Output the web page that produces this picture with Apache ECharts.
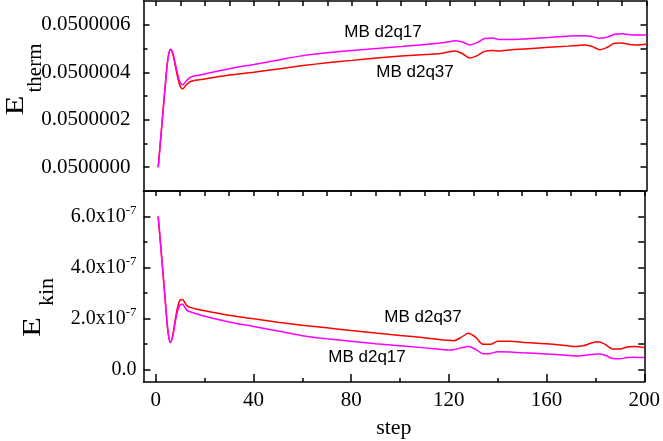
<!DOCTYPE html>
<html>
<head>
<meta charset="utf-8">
<script src="https://cdn.jsdelivr.net/npm/echarts@6/dist/echarts.min.js"></script>
<style>
  html, body { margin: 0; padding: 0; background: #fff; }
  #chart { width: 663px; height: 441px; }
</style>
</head>
<body>
<div id="chart"></div>
<script>
// Simulation steps shared by all four curves
const steps = [1, 2, 3, 4, 5, 6, 7, 8, 9, 10, 11, 12, 13, 14, 16, 20, 30, 40, 50, 60, 70, 80, 90, 100, 110,
  116, 119, 122, 125, 128, 131, 134, 137, 140, 145, 150, 160, 168, 172, 175, 178, 181, 184, 187, 190, 193, 196, 200];

// Thermal energy
const thermD2q37 = [0.05, 0.05000012, 0.05000024, 0.05000036, 0.05000046, 0.050000495, 0.050000475, 0.050000425,
  0.050000375, 0.05000034, 0.05000033, 0.050000342, 0.050000352, 0.05000036, 0.050000366, 0.050000372,
  0.050000388, 0.0500004, 0.050000414, 0.050000428, 0.05000044, 0.05000045, 0.05000046, 0.050000468, 0.050000475,
  0.050000479, 0.050000485, 0.050000489, 0.050000478, 0.05000046, 0.05000047, 0.050000488, 0.050000492, 0.05000049,
  0.050000495, 0.050000498, 0.050000505, 0.05000051, 0.050000513, 0.050000515, 0.050000508, 0.050000495,
  0.050000505, 0.050000522, 0.050000523, 0.050000517, 0.050000515, 0.050000518];
const thermD2q17 = [0.05, 0.05000012, 0.05000024, 0.05000036, 0.05000046, 0.050000497, 0.05000048, 0.050000435,
  0.05000039, 0.050000355, 0.050000347, 0.050000358, 0.05000037, 0.050000378, 0.050000385, 0.050000393,
  0.050000415, 0.050000433, 0.050000452, 0.05000047, 0.050000482, 0.050000492, 0.0500005, 0.050000508, 0.050000517,
  0.050000523, 0.050000528, 0.050000533, 0.050000527, 0.050000515, 0.050000525, 0.050000542, 0.050000544, 0.050000538,
  0.050000538, 0.05000054, 0.050000546, 0.050000552, 0.050000554, 0.050000554, 0.05000055, 0.050000543,
  0.050000548, 0.05000056, 0.050000562, 0.050000558, 0.050000557, 0.050000557];

// Kinetic energy
const kinD2q37 = [6.0e-7, 4.9e-7, 3.75e-7, 2.6e-7, 1.5e-7, 1.05e-7, 1.35e-7, 1.95e-7, 2.45e-7, 2.72e-7, 2.74e-7, 2.6e-7,
  2.48e-7, 2.43e-7, 2.38e-7, 2.3e-7, 2.12e-7, 1.98e-7, 1.85e-7, 1.73e-7, 1.63e-7, 1.52e-7, 1.42e-7, 1.33e-7, 1.24e-7,
  1.17e-7, 1.14e-7, 1.12e-7, 1.25e-7, 1.41e-7, 1.25e-7, 0.98e-7, 0.98e-7, 1.1e-7, 1.1e-7, 1.06e-7, 1.0e-7,
  0.93e-7, 0.89e-7, 0.92e-7, 1.02e-7, 1.08e-7, 0.98e-7, 0.8e-7, 0.8e-7, 0.87e-7, 0.89e-7, 0.85e-7];
const kinD2q17 = [6.0e-7, 4.9e-7, 3.75e-7, 2.6e-7, 1.5e-7, 1.05e-7, 1.3e-7, 1.85e-7, 2.3e-7, 2.53e-7, 2.55e-7, 2.42e-7,
  2.3e-7, 2.26e-7, 2.2e-7, 2.08e-7, 1.86e-7, 1.68e-7, 1.5e-7, 1.32e-7, 1.2e-7, 1.1e-7, 1.0e-7, 0.92e-7, 0.84e-7,
  0.79e-7, 0.76e-7, 0.77e-7, 0.84e-7, 0.89e-7, 0.78e-7, 0.61e-7, 0.62e-7, 0.69e-7, 0.68e-7, 0.65e-7, 0.6e-7,
  0.55e-7, 0.52e-7, 0.54e-7, 0.58e-7, 0.6e-7, 0.55e-7, 0.42e-7, 0.41e-7, 0.46e-7, 0.47e-7, 0.46e-7];

// Tick positions
const stepLabels = [0, 40, 80, 120, 160, 200];
const stepMinor = [20, 60, 100, 140, 180];
const stepTopTicks = [0, 10, 20, 30, 40, 50, 60, 70, 80, 90, 100, 110, 120, 130, 140, 150, 160, 170, 180, 190, 200];
const thermLabels = [0.05, 0.0500002, 0.0500004, 0.0500006];
const thermMinor = [0.0500001, 0.0500003, 0.0500005];
const thermRight = [0.05, 0.0500001, 0.0500002, 0.0500003, 0.0500004, 0.0500005, 0.0500006];
const kinLabels = [0, 2e-7, 4e-7, 6e-7];
const kinMinor = [1e-7, 3e-7, 5e-7];
const kinRight = [0, 1e-7, 2e-7, 3e-7, 4e-7, 5e-7, 6e-7];

const SERIF = '"Liberation Serif", "Times New Roman", serif';
const SANS = '"Liberation Sans", Arial, sans-serif';
const INK = '#000';
const RED = '#ff0000';
const MAGENTA = '#ff00ff';

// Every axis sits on its grid edge, never on the other axis' zero
const frame = { show: true, onZero: false, lineStyle: { color: INK, width: 1.5 } };
const noLine = { show: false, onZero: false };

function tickStyle(ticks, len) {
  return ticks
    ? { show: true, inside: true, length: len, customValues: ticks, lineStyle: { color: INK, width: 1.5 } }
    : { show: false };
}
function xAx(grid, position, ticks, len, line, extra) {
  return Object.assign({
    type: 'value', gridIndex: grid, position: position, min: -5, max: 200,
    axisLine: line ? frame : noLine,
    axisTick: tickStyle(ticks, len),
    axisLabel: { show: false },
    splitLine: { show: false }
  }, extra || {});
}
function yAx(grid, position, min, max, ticks, len, line, extra) {
  return Object.assign({
    type: 'value', gridIndex: grid, position: position, min: min, max: max,
    axisLine: line ? frame : noLine,
    axisTick: tickStyle(ticks, len),
    axisLabel: { show: false },
    splitLine: { show: false }
  }, extra || {});
}

const pairs = (ys) => steps.map((s, i) => [s, ys[i]]);

const option = {
  backgroundColor: '#fff',
  animation: false,
  grid: [
    { left: 143.5, right: 16.5, top: 1, height: 190 },
    { left: 143.5, right: 16.5, top: 191, height: 191 }
  ],
  xAxis: [
    xAx(0, 'bottom', null, 0, true),
    xAx(0, 'top', stepTopTicks, 5, true),
    xAx(1, 'top', stepTopTicks, 5, true),
    xAx(1, 'bottom', stepLabels, 8, true, {
      axisLabel: {
        show: true, customValues: stepLabels, margin: 8,
        color: INK, fontFamily: SERIF, fontSize: 21
      },
      name: 'step', nameLocation: 'middle', nameGap: 35,
      nameTextStyle: { color: INK, fontFamily: SERIF, fontSize: 22 }
    }),
    xAx(1, 'bottom', stepMinor, 4, false)
  ],
  yAxis: [
    yAx(0, 'left', 0.0499999, 0.0500007, thermLabels, 6, true, {
      axisLabel: {
        show: true, customValues: thermLabels, margin: 13,
        color: INK, fontFamily: SERIF, fontSize: 21,
        formatter: (v) => v.toFixed(7)
      }
    }),
    yAx(0, 'left', 0.0499999, 0.0500007, thermMinor, 4, false),
    yAx(0, 'right', 0.0499999, 0.0500007, thermRight, 6, true),
    yAx(1, 'left', -0.5e-7, 7e-7, kinLabels, 7, true, {
      axisLabel: {
        show: true, customValues: kinLabels, margin: 7,
        color: INK, fontFamily: SERIF, fontSize: 20,
        formatter: (v) => v === 0 ? '{b|0.0}' : '{b|' + (v / 1e-7).toFixed(1) + 'x10}{sup|-7}',
        rich: {
          b: { fontFamily: SERIF, fontSize: 20, lineHeight: 24, color: INK },
          sup: { fontFamily: SERIF, fontSize: 13, lineHeight: 16, verticalAlign: 'top', color: INK }
        }
      }
    }),
    yAx(1, 'left', -0.5e-7, 7e-7, kinMinor, 4, false),
    yAx(1, 'right', -0.5e-7, 7e-7, kinRight, 6, true)
  ],
  series: [
    { name: 'MB d2q37', type: 'line', xAxisIndex: 0, yAxisIndex: 0, data: pairs(thermD2q37),
      showSymbol: false, smooth: 0.3, lineStyle: { color: RED, width: 1.5 }, itemStyle: { color: RED } },
    { name: 'MB d2q17', type: 'line', xAxisIndex: 0, yAxisIndex: 0, data: pairs(thermD2q17),
      showSymbol: false, smooth: 0.3, lineStyle: { color: MAGENTA, width: 1.5 }, itemStyle: { color: MAGENTA } },
    { name: 'MB d2q37', type: 'line', xAxisIndex: 3, yAxisIndex: 3, data: pairs(kinD2q37),
      showSymbol: false, smooth: 0.3, lineStyle: { color: RED, width: 1.5 }, itemStyle: { color: RED } },
    { name: 'MB d2q17', type: 'line', xAxisIndex: 3, yAxisIndex: 3, data: pairs(kinD2q17),
      showSymbol: false, smooth: 0.3, lineStyle: { color: MAGENTA, width: 1.5 }, itemStyle: { color: MAGENTA } }
  ],
  graphic: [
    // Curve annotations
    { type: 'text', x: 383, y: 32, style: { text: 'MB d2q17', font: '17px ' + SANS, fill: INK, align: 'center', verticalAlign: 'middle' } },
    { type: 'text', x: 415, y: 72, style: { text: 'MB d2q37', font: '17px ' + SANS, fill: INK, align: 'center', verticalAlign: 'middle' } },
    { type: 'text', x: 423, y: 317, style: { text: 'MB d2q37', font: '17px ' + SANS, fill: INK, align: 'center', verticalAlign: 'middle' } },
    { type: 'text', x: 367, y: 357, style: { text: 'MB d2q17', font: '17px ' + SANS, fill: INK, align: 'center', verticalAlign: 'middle' } },
    // Vertical axis titles: E with subscript
    { type: 'text', x: 16.5, y: 105.5, rotation: Math.PI / 2, scaleX: 1.3,
      style: { text: 'E', font: '25px ' + SERIF, fill: INK, align: 'center', verticalAlign: 'middle' } },
    { type: 'text', x: 35, y: 68, rotation: Math.PI / 2,
      style: { text: 'therm', font: '21px ' + SERIF, fill: INK, align: 'center', verticalAlign: 'middle' } },
    { type: 'text', x: 33, y: 327, rotation: Math.PI / 2, scaleX: 1.3,
      style: { text: 'E', font: '25px ' + SERIF, fill: INK, align: 'center', verticalAlign: 'middle' } },
    { type: 'text', x: 47, y: 292, rotation: Math.PI / 2,
      style: { text: 'kin', font: '22px ' + SERIF, fill: INK, align: 'center', verticalAlign: 'middle' } }
  ]
};

const chart = echarts.init(document.getElementById('chart'), null, { renderer: 'canvas' });
chart.setOption(option);
</script>
</body>
</html>
